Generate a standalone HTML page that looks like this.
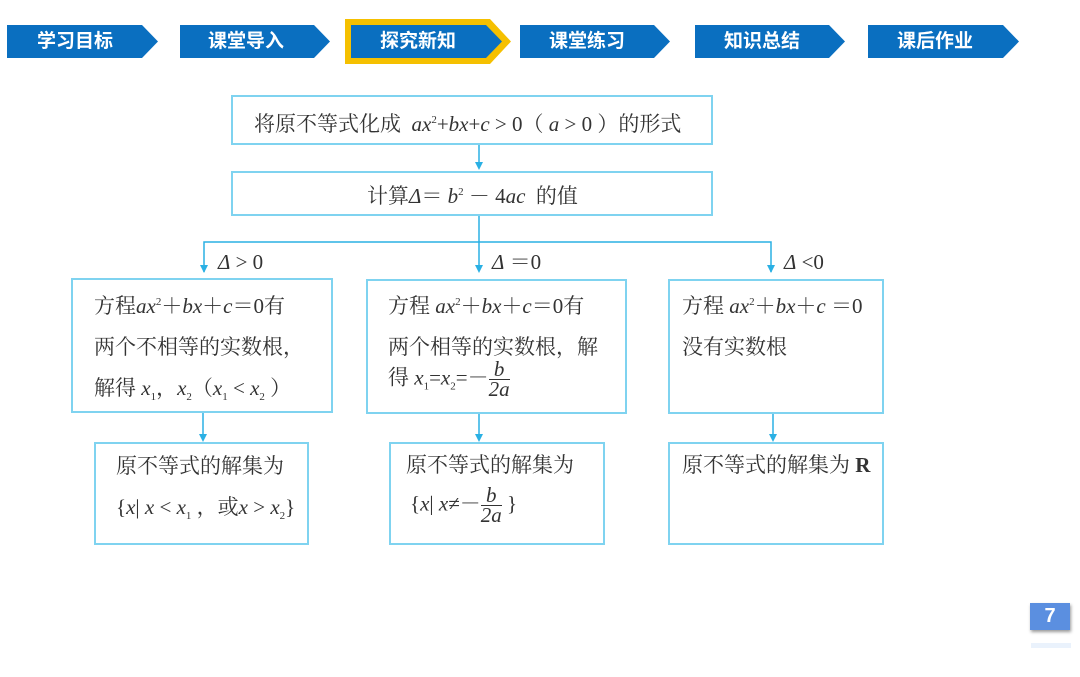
<!DOCTYPE html>
<html><head><meta charset="utf-8"><style>
body{margin:0;width:1080px;height:677px;background:#fff;position:relative;overflow:hidden;font-family:"Liberation Serif","Noto Serif CJK SC",serif;color:#333}
.b{position:absolute;border:2px solid #7fd3f0;box-sizing:border-box}
.t{position:absolute;font-size:20px;white-space:nowrap;line-height:24px}
i{font-style:italic}
sub,sup{font-size:11px}
.fr{display:inline-block;vertical-align:middle;text-align:center;line-height:19px;font-style:italic;font-size:21px}
.fr span{display:block}
.fr span:first-child{border-bottom:1px solid #333}
.nav{position:absolute;top:25px;height:33px;color:#fff;font-family:"Liberation Sans","Noto Sans CJK SC",sans-serif;font-weight:bold;font-size:19px;line-height:33px}
</style></head><body>
<svg width="1080" height="677" style="position:absolute;left:0;top:0">
<g fill="#0a6fc0">
<polygon points="7,25 142,25 158,41.5 142,58 7,58"/>
<polygon points="180,25 314,25 330,41.5 314,58 180,58"/>
<polygon points="345,19 490,19 511,41.5 490,64 345,64" fill="#f5c000"/>
<polygon points="351,25 486,25 502,41.5 486,58 351,58"/>
<polygon points="520,25 654,25 670,41.5 654,58 520,58"/>
<polygon points="695,25 829,25 845,41.5 829,58 695,58"/>
<polygon points="868,25 1003,25 1019,41.5 1003,58 868,58"/>
</g>
<g stroke="#2ab0e4" stroke-width="1.5" fill="none">
<line x1="479" y1="145" x2="479" y2="168"/>
<line x1="479" y1="216" x2="479" y2="270"/>
<polyline points="204,272 204,242 771,242 771,272"/>
<line x1="203" y1="413" x2="203" y2="440"/>
<line x1="479" y1="414" x2="479" y2="440"/>
<line x1="773" y1="414" x2="773" y2="440"/>
</g>
<g fill="#2ab0e4">
<polygon points="475,162 483,162 479,170"/>
<polygon points="475,265 483,265 479,273"/>
<polygon points="200,265 208,265 204,273"/>
<polygon points="767,265 775,265 771,273"/>
<polygon points="199,434 207,434 203,442"/>
<polygon points="475,434 483,434 479,442"/>
<polygon points="769,434 777,434 773,442"/>
</g>
</svg>
<div class="nav" style="left:37px">学习目标</div>
<div class="nav" style="left:208px">课堂导入</div>
<div class="nav" style="left:380px">探究新知</div>
<div class="nav" style="left:549px">课堂练习</div>
<div class="nav" style="left:724px">知识总结</div>
<div class="nav" style="left:897px">课后作业</div>

<div class="b" style="left:231px;top:95px;width:482px;height:50px"></div>
<div class="t" style="left:254px;top:108px;font-size:21px">将原不等式化成 &nbsp;<i>ax</i><sup>2</sup>+<i>bx</i>+<i>c</i> &gt; 0（ <i>a</i> &gt; 0 ）的形式</div>
<div class="b" style="left:231px;top:171px;width:482px;height:45px"></div>
<div class="t" style="left:367px;top:180px;font-size:21px">计算<i>Δ</i>＝ <i>b</i><sup>2</sup> － 4<i>ac</i> &nbsp;的值</div>

<div class="t" style="left:218px;top:250px;font-size:21px"><i>Δ</i> &gt; 0</div>
<div class="t" style="left:492px;top:250px;font-size:21px"><i>Δ</i> ＝0</div>
<div class="t" style="left:784px;top:250px;font-size:21px"><i>Δ</i> &lt;0</div>

<div class="b" style="left:71px;top:278px;width:262px;height:135px"></div>
<div class="t" style="left:94px;top:282px;line-height:41px;font-size:21px">方程<i>ax</i><sup>2</sup>＋<i>bx</i>＋<i>c</i>＝0有<br>两个不相等的实数根，<br>解得 <i>x</i><sub>1</sub>，<i>x</i><sub>2</sub>（<i>x</i><sub>1</sub> &lt; <i>x</i><sub>2</sub> ）</div>
<div class="b" style="left:366px;top:279px;width:261px;height:135px"></div>
<div class="t" style="left:388px;top:282px;line-height:41px;font-size:21px">方程 <i>ax</i><sup>2</sup>＋<i>bx</i>＋<i>c</i>＝0有<br>两个相等的实数根，解</div>
<div class="t" style="left:388px;top:360px;font-size:21px">得 <i>x</i><sub>1</sub>=<i>x</i><sub>2</sub>=－<span class="fr"><span>b</span><span>2a</span></span></div>
<div class="b" style="left:668px;top:279px;width:216px;height:135px"></div>
<div class="t" style="left:682px;top:282px;line-height:41px;font-size:21px">方程 <i>ax</i><sup>2</sup>＋<i>bx</i>＋<i>c</i> ＝0<br>没有实数根</div>

<div class="b" style="left:94px;top:442px;width:215px;height:103px"></div>
<div class="t" style="left:116px;top:446px;line-height:41px;font-size:21px">原不等式的解集为<br>{<i>x</i>| <i>x</i> &lt; <i>x</i><sub>1</sub> ，或<i>x</i> &gt; <i>x</i><sub>2</sub>}</div>
<div class="b" style="left:389px;top:442px;width:216px;height:103px"></div>
<div class="t" style="left:406px;top:453px;font-size:21px">原不等式的解集为</div>
<div class="t" style="left:410px;top:486px;font-size:21px">{<i>x</i>| <i>x</i>≠－<span class="fr"><span>b</span><span>2a</span></span> }</div>
<div class="b" style="left:668px;top:442px;width:216px;height:103px"></div>
<div class="t" style="left:682px;top:453px;font-size:21px">原不等式的解集为 <b>R</b></div>

<div style="position:absolute;left:1030px;top:603px;width:40px;height:27px;background:#5b8fe0;color:#fff;font:bold 20px 'Liberation Sans',sans-serif;text-align:center;line-height:27px;box-shadow:1px 2px 3px #999">7</div>
<div style="position:absolute;left:1031px;top:643px;width:40px;height:5px;background:#eaf2fc"></div>
</body></html>
